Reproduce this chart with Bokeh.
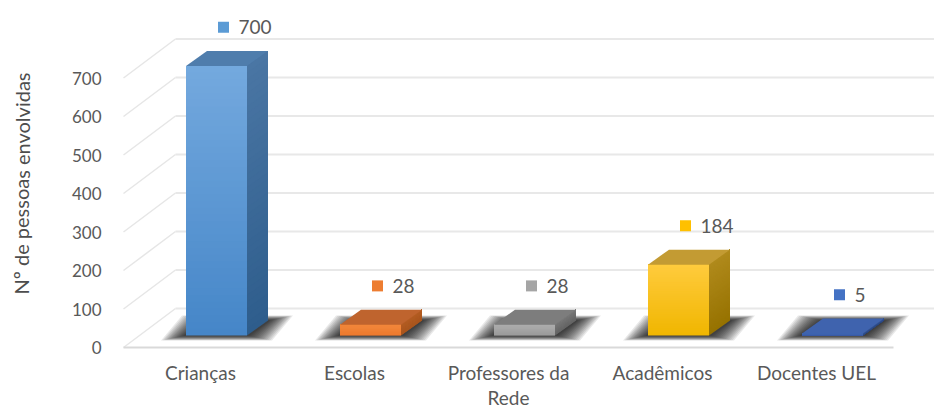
from bokeh.plotting import figure
from bokeh.models import Range1d
from bokeh.embed import file_html
from bokeh.resources import INLINE
from bokeh.core.properties import value

# ---------------- data ----------------
categories = ["Crianças", "Escolas", "Professores da Rede", "Acadêmicos", "Docentes UEL"]
category_labels = ["Crianças", "Escolas", "Professores da\nRede", "Acadêmicos", "Docentes UEL"]
values = [700, 28, 28, 184, 5]
y_ticks = [0, 100, 200, 300, 400, 500, 600, 700]
y_title = "Nº de pessoas envolvidas"

# ---------------- styles ----------------
front_top = ["#74a9de", "#f2873c", "#adadad", "#ffcb3d", "#4068b4"]
front_bottom = ["#4586c8", "#ec7a2e", "#9a9a9a", "#f0b600", "#3a5ca6"]
side_top = ["#4a76a4", "#b45e24", "#787878", "#b08a1c", "#34528f"]
side_bottom = ["#2e5d8c", "#a8561f", "#646464", "#967200", "#2f4c85"]
top_face = ["#4f7dac", "#bf642e", "#7d7d7d", "#c39b33", "#3f63ae"]
label_color = ["#5b9bd5", "#ed7d31", "#a5a5a5", "#ffc000", "#4472c4"]
TEXT = "#595959"
FONT = "Lato"

W, H = 934, 409
PXX = 154.0      # pixels per category
PXY = 0.385      # pixels per value unit
X0, Y0 = 123, 347


def ux(px):
    return px / PXX


def uy(px):
    return px / PXY


WALL_DX, WALL_DY = ux(52), uy(39)
BAR_DX0, BAR_DY0 = ux(16), uy(12)
BAR_DX, BAR_DY = ux(21), uy(15)
BAR_HW = ux(30.5)
N = len(categories)


def mix(c1, c2, t):
    a = [int(c1[i:i + 2], 16) for i in (1, 3, 5)]
    b = [int(c2[i:i + 2], 16) for i in (1, 3, 5)]
    return "#%02x%02x%02x" % tuple(round(a[k] + (b[k] - a[k]) * t) for k in range(3))


p = figure(width=W, height=H,
           x_range=Range1d(-X0 / PXX, (W - X0) / PXX),
           y_range=Range1d(-(H - Y0) / PXY, Y0 / PXY),
           output_backend="svg", toolbar_location=None,
           x_axis_type=None, y_axis_type=None, min_border=0)
p.outline_line_color = None
p.background_fill_color = "white"
p.border_fill_color = "white"
p.grid.visible = False

# ---------------- walls ----------------
p.segment(x0=[0] * len(y_ticks), y0=y_ticks,
          x1=[WALL_DX] * len(y_ticks), y1=[t + WALL_DY for t in y_ticks],
          line_color="#e6e6e6", line_width=1.5)
p.segment(x0=[WALL_DX] * len(y_ticks), y0=[t + WALL_DY for t in y_ticks],
          x1=[N + WALL_DX] * len(y_ticks), y1=[t + WALL_DY for t in y_ticks],
          line_color="#e8e8e8", line_width=2)
p.segment(x0=[0], y0=[0], x1=[N], y1=[0], line_color="#d9d9d9", line_width=2)

# ---------------- shadows (soft, layered) ----------------
LAYERS = 14
for i, v in enumerate(values):
    c = i + 0.5 + BAR_DX0
    for j in range(LAYERS):
        s = 1.0 - j / LAYERS
        ex, ey = ux(24 * s + 1), uy(5 * s)
        xs = [c - BAR_HW - ex, c + BAR_HW + ex, c + BAR_HW + BAR_DX + ex, c - BAR_HW + BAR_DX - ex]
        ys = [BAR_DY0 - ey, BAR_DY0 - ey, BAR_DY0 + BAR_DY + ey, BAR_DY0 + BAR_DY + ey]
        p.patch(xs, ys, fill_color="#000000", fill_alpha=0.09, line_color=None)

# ---------------- bars ----------------
STRIPS = 40
for i, v in enumerate(values):
    c = i + 0.5 + BAR_DX0
    xl, xr = c - BAR_HW, c + BAR_HW
    yt = BAR_DY0 + v
    # front face gradient: each strip runs from its bottom to bar top (no seams)
    bots = [BAR_DY0 + v * k / STRIPS for k in range(STRIPS)]
    cols = [mix(front_bottom[i], front_top[i], (k + 0.5) / STRIPS) for k in range(STRIPS)]
    p.quad(left=[xl] * STRIPS, right=[xr] * STRIPS, bottom=bots, top=[yt] * STRIPS,
           fill_color=cols, line_color=None)
    # side face gradient
    sxs, sys, scol = [], [], []
    for k in range(STRIPS):
        y0 = bots[k]
        sxs.append([xr, xr + BAR_DX, xr + BAR_DX, xr])
        sys.append([y0, y0 + BAR_DY, yt + BAR_DY, yt])
        scol.append(mix(side_bottom[i], side_top[i], (k + 0.5) / STRIPS))
    p.patches(sxs, sys, fill_color=scol, line_color=None)
    # top face
    p.patch([xl, xr, xr + BAR_DX, xl + BAR_DX], [yt, yt, yt + BAR_DY, yt + BAR_DY],
            fill_color=top_face[i], line_color=None)

# ---------------- data labels ----------------
lx = [i + 0.5 + BAR_DX0 + ux(7) for i in range(N)]
ly = [v + 132 for v in values]
p.scatter(x=lx, y=ly, marker="square", size=11, fill_color=label_color, line_color=None)
p.text(x=lx, y=ly, text=[str(v) for v in values], x_offset=15,
       text_align="left", text_baseline="middle", text_font=value(FONT),
       text_font_size="19px", text_color=TEXT)

# ---------------- axes (text) ----------------
p.text(x=[ux(101 - X0)] * len(y_ticks), y=y_ticks, text=[str(t) for t in y_ticks],
       text_align="right", text_baseline="middle", text_font=value(FONT),
       text_font_size="17px", text_color=TEXT)
p.text(x=[i + 0.5 for i in range(N)], y=[uy(-13)] * N, text=category_labels,
       text_align="center", text_baseline="top", text_font=value(FONT),
       text_font_size="19px", text_color=TEXT, text_line_height=1.12)
p.text(x=[ux(21 - X0)], y=[uy(Y0 - 183)], text=[y_title], angle=1.5707963,
       text_align="center", text_baseline="middle", text_font=value(FONT),
       text_font_size="20px", text_color="#4d4d4d")

open("out.html", "w").write(file_html(p, INLINE))
